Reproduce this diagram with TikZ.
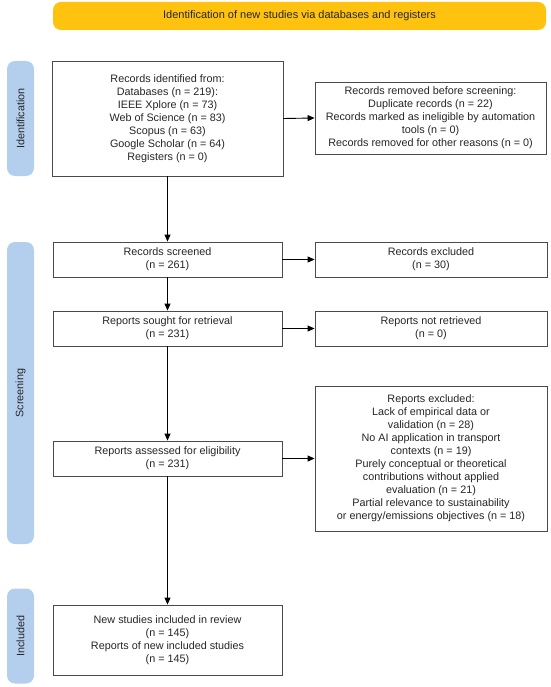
\documentclass[tikz,border=0pt]{standalone}
\usepackage{fontspec}
\setmainfont{Liberation Sans}
\usetikzlibrary{arrows.meta}
\definecolor{banner}{HTML}{FFC20E}
\definecolor{phase}{HTML}{B4CEEE}
\definecolor{boxline}{HTML}{4A4A4A}
\definecolor{txt}{HTML}{262626}
\begin{document}
\begin{tikzpicture}[x=1pt,y=-1pt,
  every node/.style={font=\fontsize{10.8}{13}\selectfont, text=txt},
  box/.style={draw=boxline, line width=0.9pt, fill=white, align=center, inner sep=2pt},
  phasebar/.style={fill=phase, rounded corners=8pt, draw=none},
  conn/.style={draw=black, line width=0.9pt, -{Triangle[length=7pt,width=6pt]}}]
\useasboundingbox (0,0) rectangle (550,687);
% banner
\node[fill=banner, rounded corners=8pt, minimum width=493pt, minimum height=28pt, inner sep=0pt, font=\fontsize{11}{13}\selectfont] (ban) at (299.5,16) {Identification of new studies via databases and registers};
% phase bars
\node[phasebar, minimum width=27pt, minimum height=115pt, inner sep=0pt] (pid) at (20.5,118.5) {};
\node[rotate=90] at (pid.center) {Identification};
\node[phasebar, minimum width=27pt, minimum height=302pt, inner sep=0pt] (psc) at (20.5,393) {};
\node[rotate=90] at (psc.center) {Screening};
\node[phasebar, minimum width=27pt, minimum height=95pt, inner sep=0pt] (pin) at (20.5,636) {};
\node[rotate=90] at (pin.center) {Included};
% boxes
\node[box, minimum width=231pt, minimum height=115pt] (ident) at (167.5,118.5) {Records identified from:\\Databases (n = 219):\\IEEE Xplore (n = 73)\\Web of Science (n = 83)\\Scopus (n = 63)\\Google Scholar (n = 64)\\Registers (n = 0)};
\node[box, minimum width=231pt, minimum height=72pt] (removed) at (430.5,118) {Records removed before screening:\\Duplicate records (n = 22)\\Records marked as ineligible by automation\\tools (n = 0)\\Records removed for other reasons (n = 0)};
\node[box, minimum width=229pt, minimum height=35pt] (screened) at (167.5,259.5) {Records screened\\(n = 261)};
\node[box, minimum width=232pt, minimum height=35pt] (excluded) at (431,259.5) {Records excluded\\(n = 30)};
\node[box, minimum width=229pt, minimum height=35pt] (sought) at (167.5,328.5) {Reports sought for retrieval\\(n = 231)};
\node[box, minimum width=232pt, minimum height=35pt] (notret) at (431,328.5) {Reports not retrieved\\(n = 0)};
\node[box, minimum width=229pt, minimum height=35pt] (assessed) at (167.5,458.5) {Reports assessed for eligibility\\(n = 231)};
\node[box, minimum width=232pt, minimum height=145pt] (repexcl) at (431,458.5) {Reports excluded:\\Lack of empirical data or\\validation (n = 28)\\No AI application in transport\\contexts (n = 19)\\Purely conceptual or theoretical\\contributions without applied\\evaluation (n = 21)\\Partial relevance to sustainability\\or energy/emissions objectives (n = 18)};
\node[box, minimum width=229pt, minimum height=70pt] (incl) at (167.5,640) {New studies included in review\\(n = 145)\\Reports of new included studies\\(n = 145)};
% connectors
\draw[conn] (ident) -- (screened);
\draw[conn] (screened) -- (sought);
\draw[conn] (sought) -- (assessed);
\draw[conn] (assessed) -- (incl);
\draw[conn] (ident.east) -- (removed.west);
\draw[conn] (screened) -- (excluded);
\draw[conn] (sought) -- (notret);
\draw[conn] (assessed) -- (repexcl);
\end{tikzpicture}
\end{document}
